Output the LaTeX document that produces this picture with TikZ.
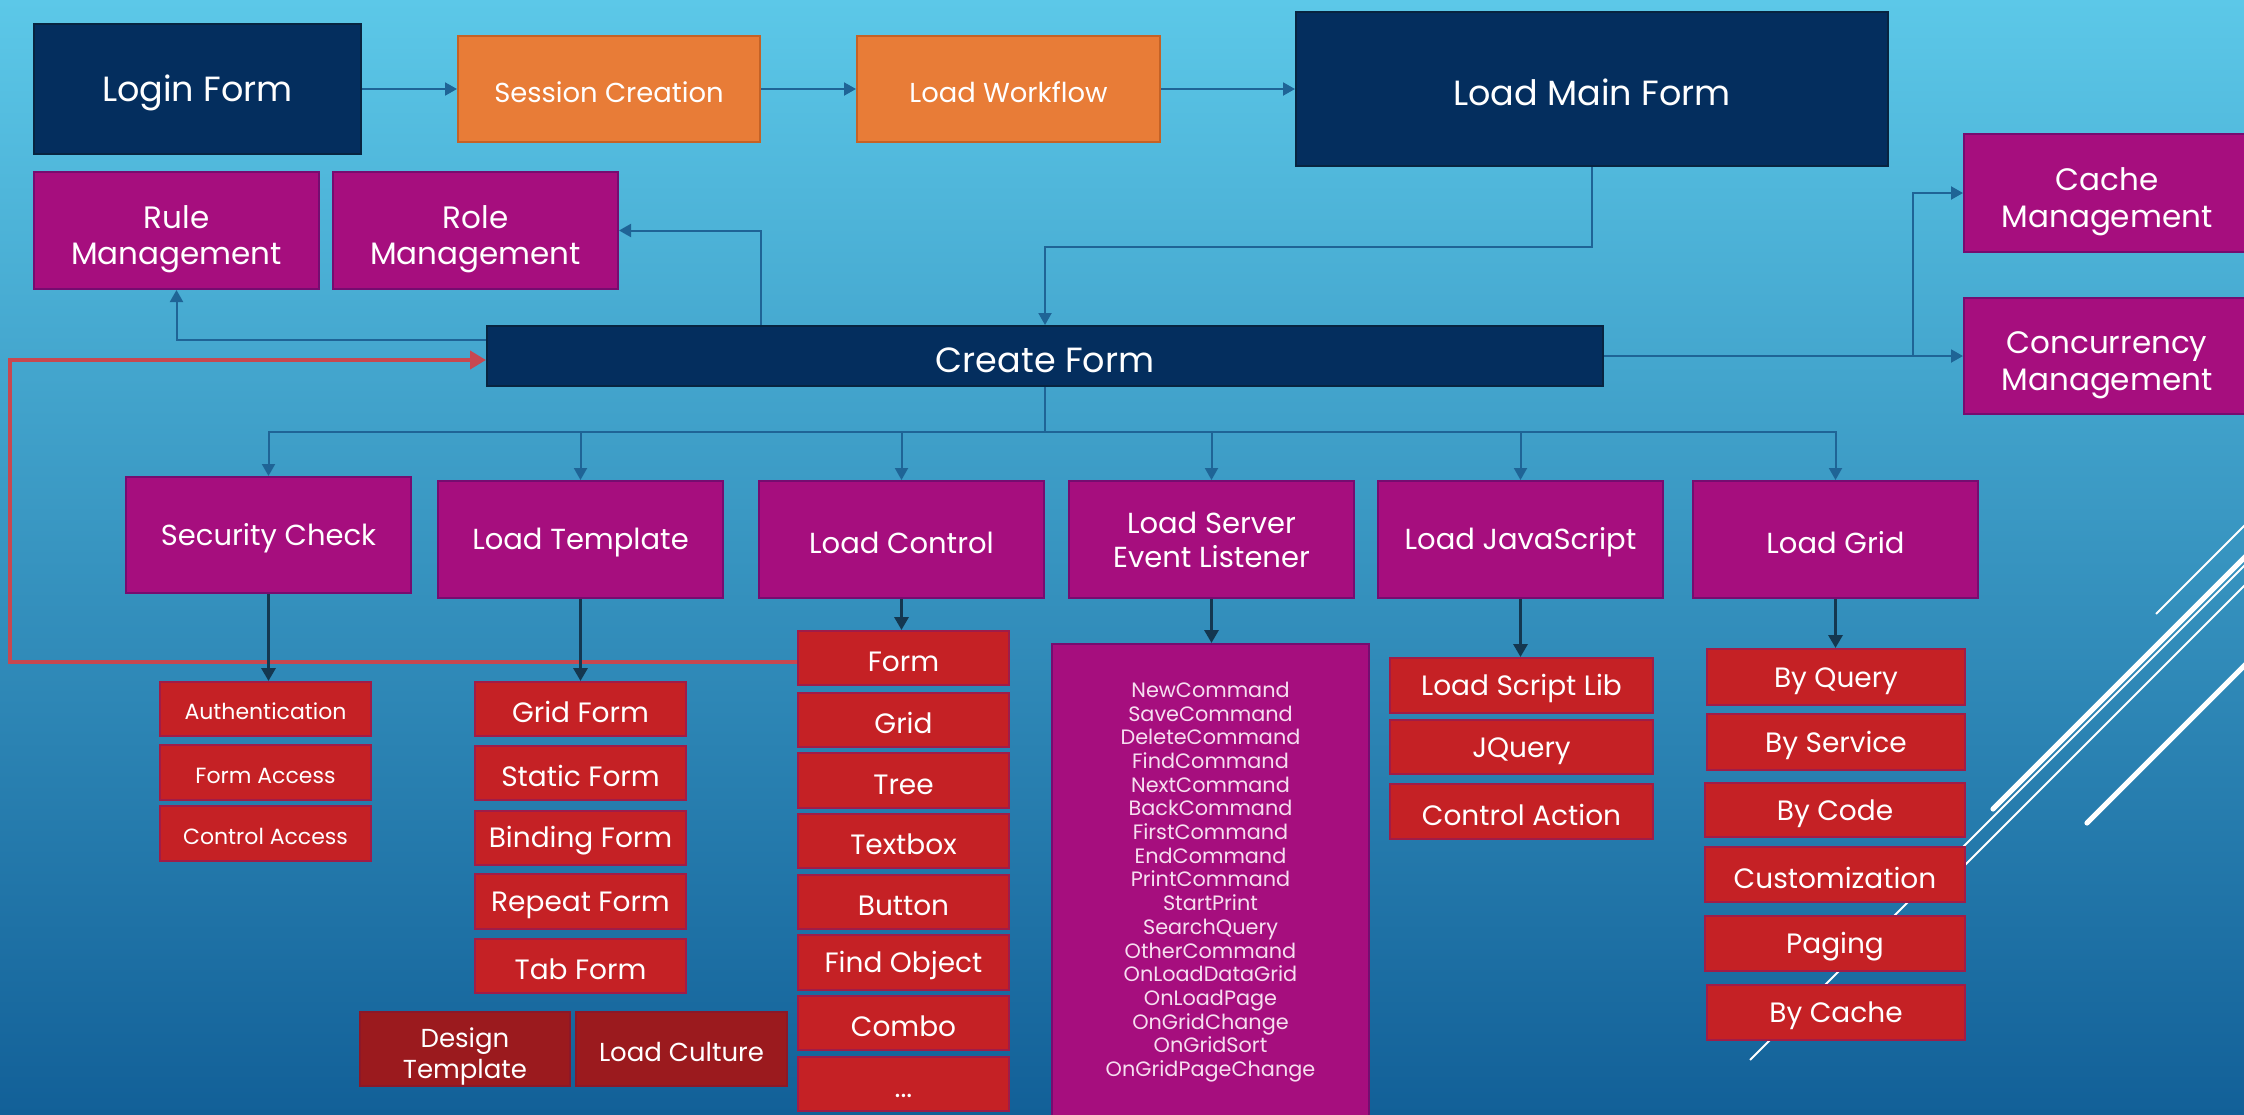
\documentclass[tikz,border=0pt]{standalone}
\usepackage{fontspec}
\setmainfont{Poppins}
\usetikzlibrary{arrows.meta}
\definecolor{navy}{RGB}{4,46,94}
\definecolor{navyline}{RGB}{8,36,64}
\definecolor{orangeb}{RGB}{232,124,55}
\definecolor{orangeline}{RGB}{196,98,38}
\definecolor{mag}{RGB}{166,14,126}
\definecolor{magline}{RGB}{118,12,112}
\definecolor{redb}{RGB}{197,33,37}
\definecolor{redline}{RGB}{160,28,72}
\definecolor{dred}{RGB}{155,26,30}
\definecolor{dredline}{RGB}{140,24,40}
\definecolor{connc}{RGB}{31,100,150}
\definecolor{darkarr}{RGB}{20,55,80}
\definecolor{loopc}{RGB}{200,72,80}
\definecolor{cmdtext}{RGB}{246,222,240}
\definecolor{bgtop}{RGB}{92,200,232}
\definecolor{bgmid}{RGB}{58,155,204}
\definecolor{bgbot}{RGB}{18,96,152}
\newcommand\Bx[7]{\node[#6, minimum width={(#4-#2)*0.5pt}, minimum height={(#5-#3)*0.5pt}] (#1) at ({(#2+#4)/2},{(#3+#5)/2}) {#7};}
\newcommand\fs[2]{\fontsize{#1}{#2}\selectfont}
\newcommand\topstrut{\rule{0pt}{0.98em}}
\newcommand\tallstrut{\rule{0pt}{1.3em}}
\tikzset{
  box/.style={draw, line width=1pt, inner sep=0pt, text=white, align=center,
    execute at begin node=\topstrut},
  navybox/.style={box, fill=navy, draw=navyline, font=\fs{17.5}{21}},
  orangebox/.style={box, fill=orangeb, draw=orangeline, font=\fs{13.7}{16}},
  magbox/.style={box, fill=mag, draw=magline, font=\fs{14.5}{17}},
  mgmtbox/.style={box, fill=mag, draw=magline, font=\fs{15.5}{18.2}},
  redbox/.style={box, fill=redb, draw=redline, font=\fs{14}{16}},
  smallred/.style={box, fill=redb, draw=redline, font=\fs{11}{13}},
  dredbox/.style={box, fill=dred, draw=dredline, font=\fs{13}{15.5}},
  cmdbox/.style={box, fill=mag, draw=magline, text=cmdtext, font=\fs{10.4}{11.85}},
  conn/.style={draw=connc, line width=1pt, -{Triangle[length=6pt,width=6.5pt]}},
  darr/.style={draw=darkarr, line width=1.6pt, -{Triangle[length=6.5pt,width=7pt]}},
  loopline/.style={draw=loopc, line width=2.2pt, -{Triangle[length=8pt,width=9pt]}},
  deco/.style={draw=white, line width=1pt},
  decothick/.style={draw=white, line width=2.6pt, line cap=round},
}
\begin{document}
\begin{tikzpicture}[x=0.5pt, y=-0.5pt]
\useasboundingbox (0,0) rectangle (2244,1114);
\clip (0,0) rectangle (2244,1114);
\shade[top color=bgtop, middle color=bgmid, bottom color=bgbot] (0,0) rectangle (2244,1114);
% decorative lines
\draw[deco] (2270,500) -- (2156,614);
\draw[decothick] (2270,532) -- (1993,809);
\draw[deco] (2270,540) -- (1750,1060);
\draw[deco] (2270,560) -- (1965,865);
\draw[decothick] (2270,640) -- (2087,823);
% top row
\Bx{login}{34}{24}{361}{154}{navybox}{Login Form}
\Bx{session}{458}{36}{760}{142}{orangebox}{Session Creation}
\Bx{workflow}{857}{36}{1160}{142}{orangebox}{Load Workflow}
\Bx{main}{1296}{12}{1888}{166}{navybox}{Load Main Form}
\Bx{rule}{34}{172}{319}{289}{mgmtbox}{\tallstrut Rule\\Management}
\Bx{role}{333}{172}{618}{289}{mgmtbox}{\tallstrut Role\\Management}
\Bx{cache}{1964}{134}{2250}{252}{mgmtbox}{\tallstrut Cache\\Management}
\Bx{conc}{1964}{298}{2250}{414}{mgmtbox}{\tallstrut Concurrency\\Management}
\Bx{cf}{487}{326}{1603}{386}{navybox}{Create Form}
% second level
\Bx{sec}{126}{477}{411}{593}{magbox}{Security Check}
\Bx{tmpl}{438}{481}{723}{598}{magbox}{Load Template}
\Bx{ctrl}{759}{481}{1044}{598}{magbox}{Load Control}
\Bx{srv}{1069}{481}{1354}{598}{magbox}{Load Server\\Event Listener}
\Bx{js}{1378}{481}{1663}{598}{magbox}{Load JavaScript}
\Bx{grid}{1693}{481}{1978}{598}{magbox}{Load Grid}
% security children
\Bx{auth}{160}{682}{371}{736}{smallred}{Authentication}
\Bx{facc}{160}{745}{371}{800}{smallred}{Form Access}
\Bx{cacc}{160}{806}{371}{861}{smallred}{Control Access}
% template children
\Bx{gform}{475}{682}{686}{736}{redbox}{Grid Form}
\Bx{sform}{475}{746}{686}{800}{redbox}{Static Form}
\Bx{bform}{475}{811}{686}{865}{redbox}{Binding Form}
\Bx{rform}{475}{874}{686}{929}{redbox}{Repeat Form}
\Bx{tform}{475}{939}{686}{993}{redbox}{Tab Form}
\Bx{design}{360}{1012}{570}{1086}{dredbox}{\tallstrut Design\\Template}
\Bx{culture}{576}{1012}{787}{1086}{dredbox}{Load Culture}
% control children
\Bx{form}{798}{631}{1009}{685}{redbox}{Form}
\Bx{cgrid}{798}{693}{1009}{747}{redbox}{Grid}
\Bx{tree}{798}{753}{1009}{808}{redbox}{Tree}
\Bx{textbox}{798}{814}{1009}{868}{redbox}{Textbox}
\Bx{button}{798}{875}{1009}{929}{redbox}{Button}
\Bx{findobj}{798}{935}{1009}{990}{redbox}{Find Object}
\Bx{combo}{798}{996}{1009}{1050}{redbox}{Combo}
\Bx{dots}{798}{1057}{1009}{1111}{redbox}{...}
% events
\Bx{events}{1052}{644}{1369}{1120}{cmdbox}{NewCommand\\SaveCommand\\DeleteCommand\\FindCommand\\NextCommand\\BackCommand\\FirstCommand\\EndCommand\\PrintCommand\\StartPrint\\SearchQuery\\OtherCommand\\OnLoadDataGrid\\OnLoadPage\\OnGridChange\\OnGridSort\\OnGridPageChange}
% js children
\Bx{slib}{1390}{658}{1653}{713}{redbox}{Load Script Lib}
\Bx{jq}{1390}{720}{1653}{774}{redbox}{JQuery}
\Bx{cact}{1390}{784}{1653}{839}{redbox}{Control Action}
% grid children
\Bx{bq}{1707}{649}{1965}{705}{redbox}{By Query}
\Bx{bs}{1707}{714}{1965}{770}{redbox}{By Service}
\Bx{bc}{1705}{783}{1965}{837}{redbox}{By Code}
\Bx{cust}{1705}{847}{1965}{902}{redbox}{Customization}
\Bx{pag}{1705}{916}{1965}{971}{redbox}{Paging}
\Bx{bca}{1707}{985}{1965}{1040}{redbox}{By Cache}
% connectors top
\draw[conn] (login.east) -- (session.west);
\draw[conn] (session.east) -- (workflow.west);
\draw[conn] (workflow.east) -- (main.west);
\coordinate (j1) at (1045,247);
\draw[conn] (main.south) |- (j1) -- (cf.north);
\coordinate (r1) at (761,0);
\draw[conn] (cf.north -| r1) |- (role.east);
\draw[conn] ([yshift=8pt]cf.west) -| (rule.south);
\coordinate (jc) at (1913,0);
\draw[conn] (cf.east) -- (cf.east -| jc) |- (cache.west);
\draw[conn] (cf.east) -- (cf.east -| conc.west);
% bus
\coordinate (bus) at (0,432);
\foreach \n in {sec,tmpl,ctrl,srv,js,grid}
  \draw[conn] (cf.south) -- (cf.south |- bus) -| (\n.north);
% loop back
\coordinate (rl) at (10,0);
\draw[loopline] ([yshift=-2pt]form.west) -- ([yshift=-2pt]form.west -| rl) |- ([yshift=-2pt]cf.west);
% dark arrows
\draw[darr] (sec.south) -- (sec.south |- auth.north);
\draw[darr] (tmpl.south) -- (tmpl.south |- gform.north);
\draw[darr] (ctrl.south) -- (ctrl.south |- form.north);
\draw[darr] (srv.south) -- (srv.south |- events.north);
\draw[darr] (js.south) -- (js.south |- slib.north);
\draw[darr] (grid.south) -- (grid.south |- bq.north);
\end{tikzpicture}
\end{document}
